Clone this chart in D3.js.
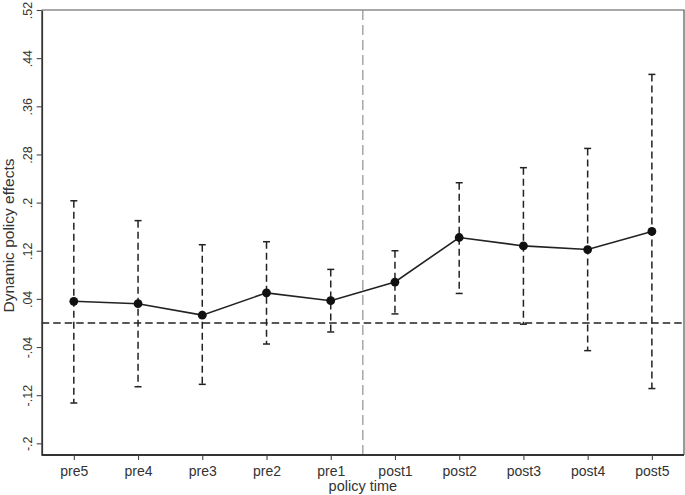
<!DOCTYPE html>
<html>
<head>
<meta charset="utf-8">
<script src="https://cdn.jsdelivr.net/npm/d3@7"></script>
<style>
  html, body { margin: 0; padding: 0; background: #fff; }
  svg { display: block; }
  text { font-family: "Liberation Sans", Arial, Helvetica, sans-serif; fill: #333; }
</style>
</head>
<body>
<svg id="chart" width="685" height="495"></svg>
<script>
// ---- data ----
const categories = ["pre5", "pre4", "pre3", "pre2", "pre1", "post1", "post2", "post3", "post4", "post5"];
const estimates  = [0.036, 0.032, 0.013, 0.050, 0.037, 0.068, 0.142, 0.128, 0.122, 0.152];
const upperCI    = [0.203, 0.170, 0.130, 0.135, 0.089, 0.120, 0.233, 0.258, 0.290, 0.413];
const lowerCI    = [-0.133, -0.106, -0.102, -0.035, -0.015, 0.015, 0.049, -0.002, -0.046, -0.109];
const yTickValues = [-0.2, -0.12, -0.04, 0.04, 0.12, 0.2, 0.28, 0.36, 0.44, 0.52];
const yTickLabels = ["-.2", "-.12", "-.04", ".04", ".12", ".2", ".28", ".36", ".44", ".52"];
const xTitle = "policy time";
const yTitle = "Dynamic policy effects";

// ---- layout ----
const mLeft = 41.7, mRight = 684, mTop = 10, mBottom = 455;
const svg = d3.select("#chart");

const x = d3.scalePoint().domain(categories).range([mLeft, mRight]).padding(0.5);
const y = d3.scaleLinear().domain([-0.2194, 0.52]).range([mBottom, mTop]);

const rows = categories.map((c, i) => ({ c, est: estimates[i], lo: lowerCI[i], hi: upperCI[i] }));

// frame (top & right)
svg.append("path")
  .attr("d", `M${mLeft},${mTop}H${mRight}V${mBottom}`)
  .attr("fill", "none").attr("stroke", "#555").attr("stroke-width", 1.2);

// zero reference line
svg.append("line")
  .attr("x1", mLeft).attr("x2", mRight)
  .attr("y1", y(0)).attr("y2", y(0))
  .attr("stroke", "#222").attr("stroke-width", 1.5)
  .attr("stroke-dasharray", "7.5,4");

// vertical policy line between pre1 and post1
const vx = (x("pre1") + x("post1")) / 2;
svg.append("line")
  .attr("x1", vx).attr("x2", vx)
  .attr("y1", mTop).attr("y2", mBottom)
  .attr("stroke", "#888").attr("stroke-width", 1.1)
  .attr("stroke-dasharray", "10,5");

// error bars
const eb = svg.append("g");
eb.selectAll("line.bar").data(rows).join("line")
  .attr("class", "bar")
  .attr("x1", d => x(d.c)).attr("x2", d => x(d.c))
  .attr("y1", d => y(d.hi)).attr("y2", d => y(d.lo))
  .attr("stroke", "#222").attr("stroke-width", 1.5)
  .attr("stroke-dasharray", "7,4");
eb.selectAll("line.capHi").data(rows).join("line")
  .attr("class", "capHi")
  .attr("x1", d => x(d.c) - 3.5).attr("x2", d => x(d.c) + 3.5)
  .attr("y1", d => y(d.hi)).attr("y2", d => y(d.hi))
  .attr("stroke", "#222").attr("stroke-width", 1.5);
eb.selectAll("line.capLo").data(rows).join("line")
  .attr("class", "capLo")
  .attr("x1", d => x(d.c) - 3.5).attr("x2", d => x(d.c) + 3.5)
  .attr("y1", d => y(d.lo)).attr("y2", d => y(d.lo))
  .attr("stroke", "#222").attr("stroke-width", 1.5);

// connecting line
svg.append("path")
  .datum(rows)
  .attr("d", d3.line().x(d => x(d.c)).y(d => y(d.est)))
  .attr("fill", "none").attr("stroke", "#222").attr("stroke-width", 1.6);

// points
svg.append("g").selectAll("circle").data(rows).join("circle")
  .attr("cx", d => x(d.c)).attr("cy", d => y(d.est))
  .attr("r", 4.4).attr("fill", "#111");

// y axis
const yAxis = svg.append("g")
  .attr("transform", `translate(${mLeft},0)`)
  .call(d3.axisLeft(y).tickValues(yTickValues)
    .tickFormat((d, i) => yTickLabels[i]).tickSize(5).tickSizeOuter(0));
yAxis.select(".domain").attr("stroke", "#333").attr("stroke-width", 1.8);
yAxis.selectAll(".tick line").attr("stroke", "#444").attr("stroke-width", 1.1);
yAxis.selectAll(".tick text")
  .attr("transform", "rotate(-90)")
  .attr("x", 0).attr("y", -9.5).attr("dy", 0)
  .attr("text-anchor", "middle")
  .style("font-size", "12.5px").style("fill", "#333");

// x axis
const xAxis = svg.append("g")
  .attr("transform", `translate(0,${mBottom})`)
  .call(d3.axisBottom(x).tickSize(5).tickSizeOuter(0));
xAxis.select(".domain").attr("stroke", "#333").attr("stroke-width", 1.8)
  .attr("d", `M${mLeft},0H${mRight}`);
xAxis.selectAll(".tick line").attr("stroke", "#444").attr("stroke-width", 1.1);
xAxis.selectAll(".tick text")
  .attr("y", 20.5).attr("dy", 0)
  .style("font-size", "14px").style("fill", "#333");

// titles
svg.append("text")
  .attr("x", (mLeft + mRight) / 2).attr("y", 491)
  .attr("text-anchor", "middle")
  .style("font-size", "14.5px")
  .text(xTitle);

svg.append("text")
  .attr("transform", `translate(13.5,${(mTop + mBottom) / 2 + 3}) rotate(-90)`)
  .attr("text-anchor", "middle")
  .style("font-size", "15.5px")
  .text(yTitle);
</script>
</body>
</html>
